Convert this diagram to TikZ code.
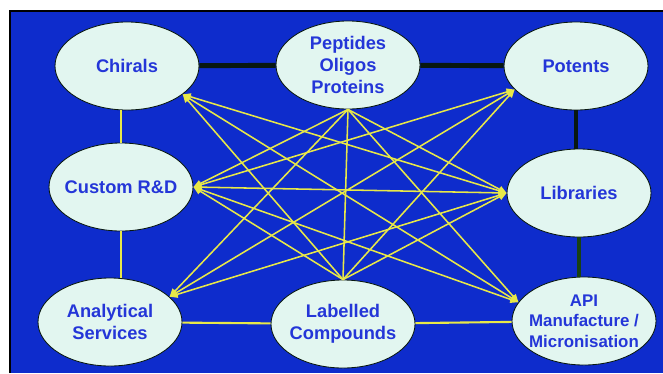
\documentclass[tikz,border=0pt]{standalone}
\usepackage{fontspec}
\setmainfont{Liberation Sans}
\usetikzlibrary{arrows.meta,shapes.geometric}
\definecolor{figblue}{RGB}{14,44,204}
\definecolor{figpale}{RGB}{226,246,240}
\definecolor{figtext}{RGB}{36,54,216}
\definecolor{figyellow}{RGB}{232,232,72}
\definecolor{figdark}{RGB}{8,24,16}
\definecolor{figgreen}{RGB}{24,64,20}
\tikzset{
  fig/.style={font=\fontsize{13}{15.5}\selectfont\bfseries},
  blob/.style={ellipse,draw=figdark,line width=0.6pt,fill=figpale,text=figtext,
               minimum width=36mm,minimum height=22mm,inner sep=-10pt,align=center},
  thickln/.style={draw=figdark,line width=3.5pt},
  greenln/.style={draw=figgreen,line width=3pt},
  yelln/.style={draw=figyellow,line width=1.5pt},
  web/.style={draw=figyellow,line width=1.1pt},
  webtip/.style={web,{Triangle[length=2mm,width=1.7mm]}-{Triangle[length=2mm,width=1.7mm]}},
  webhalf/.style={web,{Triangle[length=2mm,width=1.7mm]}-},
}

\begin{document}
\begin{tikzpicture}[fig,x=0.25mm,y=-0.25mm]
\useasboundingbox (0,0) rectangle (663,373);

% ------------------------------------------------ frame
\fill[figblue] (10,11) rectangle (663,373);
\draw[black,line width=1.2pt] (10,373) -- (10,11) -- (663,11);

% ------------------------------------------------ the eight fields
\node[blob] (chir) at (127,66)  {Chirals};
\node[blob] (pept) at (348,65)  {Peptides\\Oligos\\Proteins};
\node[blob] (pot)  at (576,66)  {Potents};
\node[blob] (cust) at (121,187) {Custom R\&D};
\node[blob] (lib)  at (579,193) {Libraries};
\node[blob] (anal) at (110,322) {Analytical\\Services};
\node[blob] (lab)  at (343,324) {Labelled\\Compounds};
\node[blob,font=\fontsize{12}{14.5}\selectfont\bfseries] (api) at (584,321)
  {API\\Manufacture /\\Micronisation};

% ------------------------------------------------ outer ring
\draw[thickln] (chir) -- (pept);
\draw[thickln] (pept) -- (pot);
\draw[thickln] (pot.south) -- (pot.south |- lib.north);
\draw[greenln] (lib.south) -- (lib.south |- api.north);
\draw[yelln] (cust.north) -- (cust.north |- chir.south);
\draw[yelln] (cust.south) -- (cust.south |- anal.north);
\draw[yelln] (anal) -- (lab);
\draw[yelln] (lab) -- (api);

% ------------------------------------------------ cross links
\foreach \a/\b in {chir.-27/lib.west, chir.-27/api.164,
                   pot.201/cust.east, pot.201/anal.23,
                   anal.23/lib.west, api.164/cust.east, cust.east/lib.west}
  {\draw[webtip] (\a) -- (\b);}
% the links into Peptides and Labelled have no tip at that end
\foreach \a/\b in {chir.-27/lab.north, pot.201/lab.north, anal.23/pept.south,
                   api.164/pept.south, cust.east/pept.south, cust.east/lab.north,
                   lib.west/pept.south, lib.west/lab.north}
  {\draw[webhalf] (\a) -- (\b);}
\draw[web] (pept.south) -- (lab.north);

\end{tikzpicture}
\end{document}
